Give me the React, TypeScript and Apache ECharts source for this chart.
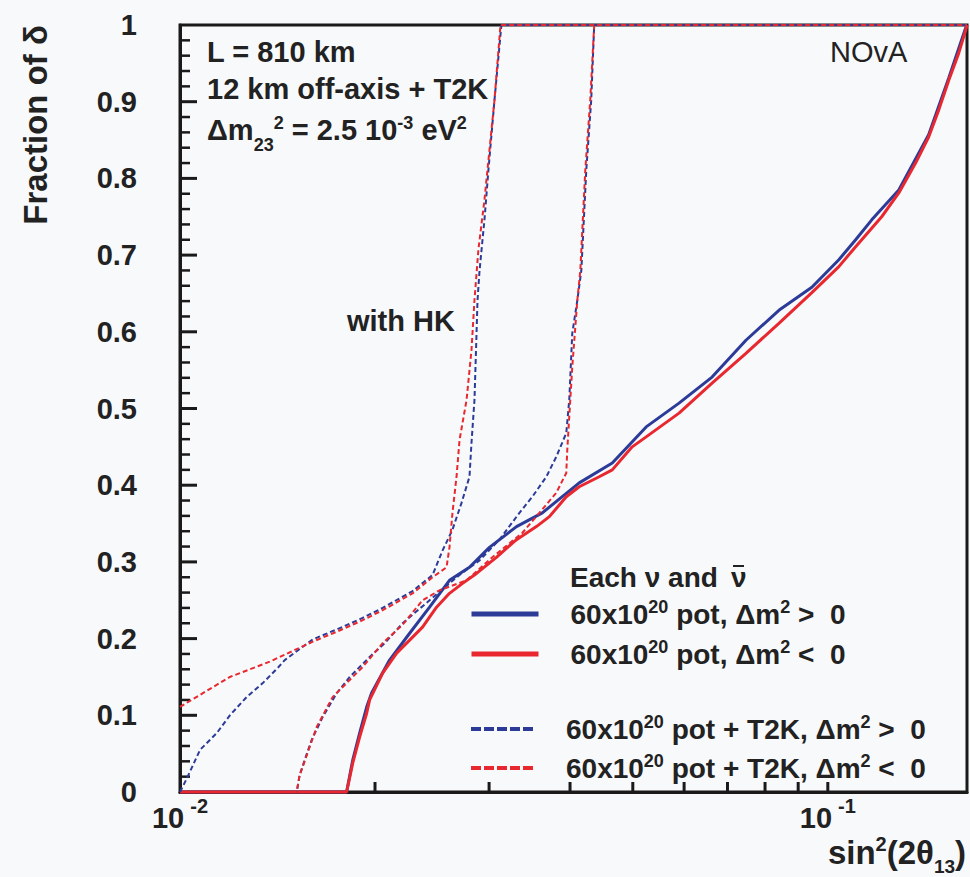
import React, { useEffect, useRef } from "react";
import * as echarts from "echarts";

// sin^2(2θ13) range (log scale) and axis marks
const X_MIN = 0.01;
const X_MAX = 0.164;
const xTickValues = [0.02, 0.03, 0.04, 0.05, 0.06, 0.07, 0.08, 0.09, 0.1];
const yMajorTickValues = [0.1, 0.2, 0.3, 0.4, 0.5, 0.6, 0.7, 0.8, 0.9];
const yMinorStep = 0.02;

// NOvA alone, normal hierarchy
const novaPosX = [0.01, 0.01808, 0.01848, 0.01894, 0.01942, 0.01976, 0.02106, 0.02262, 0.02428, 0.02606, 0.02798, 0.03004, 0.03307, 0.03625, 0.04133, 0.04648, 0.05243, 0.05893, 0.06627, 0.07475, 0.08404, 0.09448, 0.104, 0.1104, 0.1169, 0.1287, 0.1431, 0.1537, 0.1632, 0.164];
const novaPosY = [0, 0, 0.042, 0.077, 0.111, 0.129, 0.172, 0.207, 0.241, 0.276, 0.293, 0.319, 0.346, 0.364, 0.403, 0.429, 0.476, 0.507, 0.541, 0.589, 0.628, 0.658, 0.694, 0.72, 0.746, 0.785, 0.857, 0.931, 0.996, 1];

// NOvA alone, inverted hierarchy
const novaNegX = [0.01, 0.01808, 0.01848, 0.01894, 0.01942, 0.01962, 0.02055, 0.0216, 0.02262, 0.02368, 0.02489, 0.02606, 0.0273, 0.02869, 0.03079, 0.03307, 0.03549, 0.03717, 0.03947, 0.04133, 0.04437, 0.04648, 0.04989, 0.05243, 0.05893, 0.06627, 0.07475, 0.08404, 0.09448, 0.104, 0.1104, 0.1211, 0.1287, 0.1366, 0.1431, 0.1483, 0.1537, 0.1592, 0.1632, 0.164];
const novaNegY = [0, 0, 0.038, 0.072, 0.103, 0.12, 0.155, 0.181, 0.198, 0.215, 0.241, 0.259, 0.272, 0.285, 0.306, 0.329, 0.346, 0.359, 0.385, 0.398, 0.411, 0.42, 0.45, 0.463, 0.494, 0.533, 0.572, 0.611, 0.651, 0.685, 0.711, 0.75, 0.781, 0.82, 0.854, 0.889, 0.928, 0.963, 0.993, 1];

// NOvA + T2K, normal hierarchy
const t2kPosX = [0.01, 0.01514, 0.0153, 0.01558, 0.01597, 0.01661, 0.01746, 0.01828, 0.01962, 0.0207, 0.02206, 0.02428, 0.02606, 0.02701, 0.029, 0.03112, 0.03342, 0.03499, 0.03677, 0.03809, 0.03947, 0.03989, 0.04032, 0.04105, 0.04164, 0.04238, 0.04313, 0.04359, 0.164];
const t2kPosY = [0, 0, 0.022, 0.042, 0.068, 0.098, 0.129, 0.15, 0.176, 0.194, 0.22, 0.25, 0.272, 0.283, 0.302, 0.329, 0.364, 0.385, 0.411, 0.437, 0.468, 0.511, 0.598, 0.641, 0.68, 0.811, 0.902, 1, 1];

// NOvA + T2K, inverted hierarchy
const t2kNegX = [0.01, 0.01514, 0.0153, 0.01547, 0.01586, 0.01626, 0.01721, 0.01808, 0.01914, 0.02055, 0.02206, 0.02368, 0.02516, 0.02769, 0.03035, 0.03378, 0.03587, 0.03809, 0.03947, 0.03961, 0.03989, 0.04032, 0.04105, 0.04149, 0.04223, 0.04298, 0.04359, 0.164];
const t2kNegY = [0, 0, 0.022, 0.033, 0.059, 0.085, 0.124, 0.142, 0.163, 0.194, 0.218, 0.25, 0.263, 0.276, 0.306, 0.338, 0.364, 0.39, 0.416, 0.446, 0.489, 0.554, 0.641, 0.68, 0.811, 0.902, 1, 1];

// with Hyper-K, normal hierarchy
const hkPosX = [0.01, 0.01025, 0.01074, 0.0114, 0.01194, 0.01268, 0.01342, 0.01416, 0.01451, 0.01603, 0.01746, 0.01914, 0.02055, 0.02286, 0.02454, 0.02543, 0.02634, 0.0272, 0.02798, 0.02818, 0.02848, 0.02869, 0.02879, 0.029, 0.02951, 0.02993, 0.03058, 0.03134, 0.164];
const hkPosY = [0, 0.018, 0.055, 0.077, 0.1, 0.124, 0.142, 0.162, 0.172, 0.199, 0.212, 0.227, 0.24, 0.262, 0.283, 0.315, 0.342, 0.377, 0.411, 0.455, 0.511, 0.598, 0.641, 0.68, 0.746, 0.811, 0.902, 1, 1];

// with Hyper-K, inverted hierarchy
const hkNegX = [0.01, 0.01194, 0.01376, 0.01603, 0.01746, 0.01914, 0.02055, 0.02286, 0.02454, 0.02579, 0.02606, 0.02634, 0.02672, 0.02701, 0.02769, 0.02818, 0.02848, 0.02888, 0.02951, 0.03004, 0.03058, 0.03124, 0.164];
const hkNegY = [0.111, 0.15, 0.17, 0.196, 0.209, 0.224, 0.237, 0.259, 0.28, 0.293, 0.319, 0.364, 0.411, 0.459, 0.511, 0.576, 0.641, 0.707, 0.772, 0.837, 0.902, 1, 1];

const NAME_NOVA_POS = "60x10^20 pot, Δm^2 > 0";
const NAME_NOVA_NEG = "60x10^20 pot, Δm^2 < 0";
const NAME_T2K_POS = "60x10^20 pot + T2K, Δm^2 > 0";
const NAME_T2K_NEG = "60x10^20 pot + T2K, Δm^2 < 0";
const NAME_HK_POS = "with HK, Δm^2 > 0";
const NAME_HK_NEG = "with HK, Δm^2 < 0";

const legendRich: Record<string, string> = {
  [NAME_NOVA_POS]: "{gap| }60x10{sup|20} pot, Δm{sup|2} >  0",
  [NAME_NOVA_NEG]: "{gap| }60x10{sup|20} pot, Δm{sup|2} <  0",
  [NAME_T2K_POS]: "{gap| }60x10{sup|20} pot + T2K, Δm{sup|2} >  0",
  [NAME_T2K_NEG]: "{gap| }60x10{sup|20} pot + T2K, Δm{sup|2} <  0",
};

const BLUE = "#2c3a98";
const RED = "#e8282e";
const INK = "#222222";
const AXIS = "#1a1a1a";
const BG = "#f8f9fb";
const FONT = "'Liberation Sans', Arial, Helvetica, sans-serif";

const zip = (xs: number[], ys: number[]) => xs.map((x, i) => [x, ys[i]]);

// minor y ticks every 0.02, skipping the labelled 0.1 steps
const yMinorTickValues: number[] = [];
for (let i = 1; i < 50; i++) {
  if (i % 5 !== 0) yMinorTickValues.push(+(i * yMinorStep).toFixed(2));
}

// only decades get a "10^n" label on the log axis
const decadeLabel = (v: number) => {
  const e = Math.log10(v);
  const n = Math.round(e);
  return Math.abs(e - n) < 1e-6 ? `{b|10}{sup|${n}}` : "";
};

function lineSeries(name: string, xs: number[], ys: number[], color: string, dashed: boolean) {
  return {
    type: "line",
    name,
    data: zip(xs, ys),
    symbol: "none",
    clip: false,
    z: 3,
    lineStyle: dashed
      ? { color, width: 2, type: [5, 3] }
      : { color, width: 3, type: "solid" },
    itemStyle: { color },
  };
}

// Tick marks as small bars anchored on the axes, positioned by the axes' scales
function tickMarks(points: number[][], size: number[], offset: number[]) {
  return {
    type: "scatter",
    data: points,
    symbol: "rect",
    symbolSize: size,
    symbolOffset: offset,
    clip: false,
    silent: true,
    z: 2,
    itemStyle: { color: AXIS, opacity: 1 },
    emphasis: { disabled: true },
  };
}

const legendText = {
  fontSize: 28,
  fontWeight: "bold",
  fontFamily: FONT,
  color: INK,
  lineHeight: 32,
  rich: {
    gap: { width: 27, fontSize: 28, lineHeight: 32 },
    sup: { fontSize: 18, fontWeight: "bold", lineHeight: 18, verticalAlign: "top", fontFamily: FONT, color: INK },
  },
};

const textGraphics: any[] = [
  {
    type: "text",
    x: 35,
    y: 25,
    rotation: Math.PI / 2,
    style: {
      text: "Fraction of δ",
      fontSize: 33,
      fontWeight: "bold",
      fontFamily: FONT,
      fill: INK,
      align: "right",
      verticalAlign: "middle",
      textAlign: "right",
      textVerticalAlign: "middle",
    },
  },
  {
    type: "text",
    x: 966,
    y: 852,
    style: {
      text: "{b|sin}{sup|2}{b|(2θ}{sub|13}{b|)}",
      fill: INK,
      align: "right",
      verticalAlign: "middle",
      textAlign: "right",
      textVerticalAlign: "middle",
      rich: {
        b: { fontSize: 33, fontWeight: "bold", fontFamily: FONT, fill: INK, lineHeight: 36 },
        sup: { fontSize: 20, fontWeight: "bold", fontFamily: FONT, fill: INK, lineHeight: 20, verticalAlign: "top" },
        sub: { fontSize: 19, fontWeight: "bold", fontFamily: FONT, fill: INK, lineHeight: 19, verticalAlign: "bottom", padding: [0, 0, -6, 0] },
      },
    },
  },
  {
    type: "text",
    x: 207,
    y: 52,
    style: { text: "L = 810 km", fontSize: 29, fontWeight: "bold", fontFamily: FONT, fill: INK, verticalAlign: "middle", textVerticalAlign: "middle" },
  },
  {
    type: "text",
    x: 207,
    y: 89,
    style: { text: "12 km off-axis + T2K", fontSize: 29, fontWeight: "bold", fontFamily: FONT, fill: INK, verticalAlign: "middle", textVerticalAlign: "middle" },
  },
  {
    type: "text",
    x: 207,
    y: 130,
    style: {
      text: "{t|Δm}{sub|23}{sup|2}{t| = 2.5 10}{sup|-3}{t| eV}{sup|2}",
      fill: INK,
      verticalAlign: "middle",
      textVerticalAlign: "middle",
      rich: {
        t: { fontSize: 29, fontWeight: "bold", fontFamily: FONT, fill: INK, lineHeight: 32 },
        sup: { fontSize: 18, fontWeight: "bold", fontFamily: FONT, fill: INK, lineHeight: 18, verticalAlign: "top" },
        sub: { fontSize: 18, fontWeight: "bold", fontFamily: FONT, fill: INK, lineHeight: 18, verticalAlign: "bottom", padding: [0, 0, -8, 0] },
      },
    },
  },
  {
    type: "text",
    x: 830,
    y: 52,
    style: { text: "NOvA", fontSize: 29, fontFamily: FONT, fill: INK, verticalAlign: "middle", textVerticalAlign: "middle" },
  },
  {
    type: "text",
    x: 347,
    y: 321,
    style: { text: "with HK", fontSize: 29, fontWeight: "bold", fontFamily: FONT, fill: INK, verticalAlign: "middle", textVerticalAlign: "middle" },
  },
  {
    type: "text",
    x: 570,
    y: 577,
    style: { text: "Each ν and", fontSize: 28, fontWeight: "bold", fontFamily: FONT, fill: INK, verticalAlign: "middle", textVerticalAlign: "middle" },
  },
  {
    type: "text",
    x: 731,
    y: 577,
    style: { text: "ν", fontSize: 28, fontWeight: "bold", fontFamily: FONT, fill: INK, verticalAlign: "middle", textVerticalAlign: "middle" },
  },
  {
    type: "line",
    shape: { x1: 733, y1: 566, x2: 744, y2: 566 },
    style: { stroke: INK, lineWidth: 2 },
  },
];

export default function App() {
  const ref = useRef<HTMLDivElement>(null);

  useEffect(() => {
    if (!ref.current) return;
    const chart = echarts.init(ref.current, undefined, { renderer: "svg" });

    const option: any = {
      animation: false,
      backgroundColor: BG,
      grid: {
        left: 180,
        top: 25,
        right: 2,
        bottom: 85,
        show: true,
        borderColor: AXIS,
        borderWidth: 3,
        backgroundColor: "transparent",
      },
      xAxis: {
        type: "log",
        logBase: 10,
        min: X_MIN,
        max: X_MAX,
        axisLine: { show: true, lineStyle: { color: AXIS, width: 3 } },
        axisTick: { show: false },
        splitLine: { show: false },
        axisLabel: {
          margin: 4,
          formatter: decadeLabel,
          rich: {
            b: { fontSize: 29, fontWeight: "bold", fontFamily: FONT, color: INK, lineHeight: 30, padding: [14, 0, 0, 0] },
            sup: { fontSize: 20, fontWeight: "bold", fontFamily: FONT, color: INK, lineHeight: 19, verticalAlign: "top", padding: [0, 0, 0, 6] },
          },
        },
      },
      yAxis: {
        type: "value",
        min: 0,
        max: 1,
        interval: 0.1,
        axisLine: { show: true, lineStyle: { color: AXIS, width: 3 } },
        axisTick: { show: false },
        minorTick: { show: false },
        splitLine: { show: false },
        axisLabel: { margin: 43, fontSize: 29, fontWeight: "bold", fontFamily: FONT, color: INK },
      },
      legend: [
        {
          data: [NAME_NOVA_POS, NAME_NOVA_NEG].map((n) => ({ name: n, lineStyle: { width: 5 } })),
          orient: "vertical",
          left: 469,
          top: 598,
          padding: 0,
          itemWidth: 67,
          itemHeight: 12,
          itemGap: 8,
          itemStyle: { opacity: 0 },
          selectedMode: false,
          formatter: (n: string) => legendRich[n] ?? n,
          textStyle: legendText,
        },
        {
          data: [NAME_T2K_POS, NAME_T2K_NEG].map((n) => ({ name: n, lineStyle: { width: 4, type: [10, 3] } })),
          orient: "vertical",
          left: 469,
          top: 713,
          padding: 0,
          itemWidth: 63,
          itemHeight: 12,
          itemGap: 7,
          itemStyle: { opacity: 0 },
          selectedMode: false,
          formatter: (n: string) => legendRich[n] ?? n,
          textStyle: legendText,
        },
      ],
      series: [
        tickMarks(yMajorTickValues.map((v) => [X_MIN, v]), [17, 3], [8.5, 0]),
        tickMarks(yMinorTickValues.map((v) => [X_MIN, v]), [10, 2.5], [5, 0]),
        tickMarks(xTickValues.map((v) => [v, 0]), [3, 10], [0, -5]),
        lineSeries(NAME_NOVA_POS, novaPosX, novaPosY, BLUE, false),
        lineSeries(NAME_NOVA_NEG, novaNegX, novaNegY, RED, false),
        lineSeries(NAME_T2K_POS, t2kPosX, t2kPosY, BLUE, true),
        lineSeries(NAME_T2K_NEG, t2kNegX, t2kNegY, RED, true),
        lineSeries(NAME_HK_POS, hkPosX, hkPosY, BLUE, true),
        lineSeries(NAME_HK_NEG, hkNegX, hkNegY, RED, true),
      ],
      graphic: textGraphics,
    };

    chart.setOption(option);
    return () => chart.dispose();
  }, []);

  return (
    <div
      ref={ref}
      style={{ position: "fixed", left: 0, top: 0, width: 970, height: 877, background: BG }}
    />
  );
}
